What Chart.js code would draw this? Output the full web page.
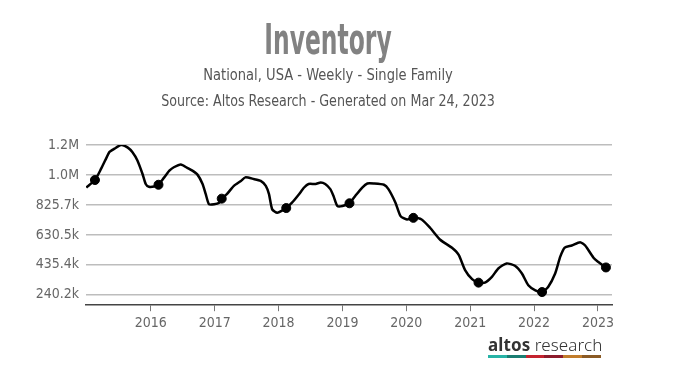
<!DOCTYPE html>
<html>
<head>
<meta charset="utf-8">
<script src="https://cdn.jsdelivr.net/npm/chart.js@4"></script>
<style>
  body { margin: 0; background: #fff; }
  #wrap { position: relative; width: 680px; height: 384px; overflow: hidden; }
  #chart { position: absolute; left: 0; top: 0; }
  .txt { position: absolute; left: 0; width: 656px; text-align: center; font-family: "DejaVu Sans Condensed", sans-serif; }
  #title { top: 15px; font-size: 42px; font-weight: bold; color: #828282; transform: scaleX(0.62); }
  #sub1 { top: 66px; font-size: 15px; color: #555; transform: scaleX(0.97); }
  #sub2 { top: 92px; font-size: 15px; color: #555; transform: scaleX(0.94); }
  #logo { position: absolute; left: 488px; top: 333px; font-family: "Noto Sans", sans-serif; font-size: 17px; color: #333; letter-spacing: 0.1px; }
  #logo b { font-weight: 700; }
  #logo span { font-weight: 300; }
  #bar { position: absolute; left: 488px; top: 355px; height: 3px; width: 113px; display: flex; }
  #bar div { flex: 1; height: 3px; }
</style>
</head>
<body>
<div id="wrap">
  <canvas id="chart" width="680" height="384"></canvas>
  <div class="txt" id="title">Inventory</div>
  <div class="txt" id="sub1">National, USA - Weekly - Single Family</div>
  <div class="txt" id="sub2">Source: Altos Research - Generated on Mar 24, 2023</div>
  <div id="logo"><b>altos</b> <span>research</span></div>
  <div id="bar">
    <div style="background:#27b3a6"></div><div style="background:#1a7d72"></div>
    <div style="background:#c4232f"></div><div style="background:#8c1b2b"></div>
    <div style="background:#c17c2b"></div><div style="background:#8a5a25"></div>
  </div>
</div>
<script>
// weekly series (decimal years)
var weekDates = [2014.99, 2015.125, 2015.22, 2015.31, 2015.35, 2015.43, 2015.54, 2015.64, 2015.71, 2015.79, 2015.87, 2015.92, 2015.97,
  2016.05, 2016.12, 2016.21, 2016.29, 2016.36, 2016.47, 2016.57, 2016.65, 2016.73, 2016.81, 2016.86, 2016.91, 2016.99,
  2017.07, 2017.11, 2017.19, 2017.30, 2017.41, 2017.48, 2017.61, 2017.72, 2017.80, 2017.85, 2017.90, 2017.98,
  2018.06, 2018.12, 2018.21, 2018.32, 2018.40, 2018.47, 2018.58, 2018.66, 2018.73, 2018.81, 2018.86, 2018.92,
  2019.00, 2019.11, 2019.20, 2019.31, 2019.39, 2019.49, 2019.65, 2019.72, 2019.83, 2019.91,
  2020.01, 2020.11, 2020.24, 2020.375, 2020.53, 2020.71, 2020.82, 2020.92,
  2021.03, 2021.13, 2021.23, 2021.34, 2021.44, 2021.57, 2021.70, 2021.81, 2021.91,
  2022.02, 2022.125, 2022.22, 2022.33, 2022.41, 2022.48, 2022.59, 2022.72, 2022.80, 2022.93, 2023.00, 2023.125];
var inventory = [939000, 987800, 1060000, 1137000, 1170000, 1192000, 1218000, 1199000, 1170000, 1115000, 1027000, 962000, 943600,
  945000, 956900, 1005000, 1049000, 1071000, 1089000, 1067000, 1049000, 1023000, 962000, 895500, 829600, 829600,
  840000, 866500, 895500, 950000, 982000, 1005000, 994500, 982000, 950000, 895500, 796600, 774000,
  790000, 805200, 840000, 895500, 939000, 962000, 962000, 972000, 962000, 928500, 884000, 818400,
  818400, 836200, 884000, 939000, 965400, 965400, 957000, 928500, 840000, 752500,
  730700, 741300, 730700, 675300, 598900, 548000, 500000, 401000,
  341700, 319300, 319300, 356900, 411600, 444600, 429400, 378700, 302200,
  269200, 258000, 291000, 378700, 488800, 548000, 561300, 583000, 561300, 482000, 455800, 418200];
// yearly markers
var markerDates = [2015.125, 2016.12, 2017.11, 2018.12, 2019.11, 2020.11, 2021.13, 2022.125, 2023.125];
var markerValues = [987800, 956900, 866500, 805200, 836200, 741300, 319300, 258000, 418200];
// axis ticks
var yTickValues = [240200, 435350, 630500, 825650, 1020800, 1215950];
var yTickLabels = ['240.2k', '435.4k', '630.5k', '825.7k', '1.0M', '1.2M'];
var xTickYears = [2016, 2017, 2018, 2019, 2020, 2021, 2022, 2023];

var axisFont = { family: '"DejaVu Sans Condensed", sans-serif', size: 14 };

new Chart(document.getElementById('chart'), {
  type: 'line',
  data: {
    datasets: [{
      data: weekDates.map(function (d, i) { return { x: d, y: inventory[i] }; }),
      borderColor: '#000',
      borderWidth: 2.5,
      pointRadius: 0,
      tension: 0.2,
      fill: false
    }, {
      data: markerDates.map(function (d, i) { return { x: d, y: markerValues[i] }; }),
      showLine: false,
      pointRadius: 4.5,
      pointBackgroundColor: '#000',
      pointBorderColor: '#000'
    }]
  },
  options: {
    responsive: false,
    animation: false,
    layout: { padding: { left: 0, right: 68, top: 145, bottom: 48 } },
    plugins: { legend: { display: false }, tooltip: { enabled: false } },
    scales: {
      x: {
        type: 'linear',
        min: 2014.985,
        max: 2023.22,
        afterBuildTicks: function (axis) { axis.ticks = xTickYears.map(function (v) { return { value: v }; }); },
        ticks: { color: '#666', font: axisFont, padding: 4, maxRotation: 0, callback: function (v) { return String(v); } },
        grid: { drawOnChartArea: false, drawTicks: true, tickLength: 6, color: '#777', lineWidth: 1 },
        border: { display: true, color: '#444', width: 1.5 }
      },
      y: {
        min: 172300,
        max: 1215950,
        afterBuildTicks: function (axis) { axis.ticks = yTickValues.map(function (v) { return { value: v }; }); },
        afterFit: function (axis) { axis.width = 86; },
        ticks: { color: '#666', font: axisFont, padding: 7, callback: function (v, i) { return yTickLabels[i]; } },
        grid: { color: '#bdbdbd', lineWidth: 1.5, drawTicks: false },
        border: { display: false }
      }
    }
  }
});
</script>
</body>
</html>
